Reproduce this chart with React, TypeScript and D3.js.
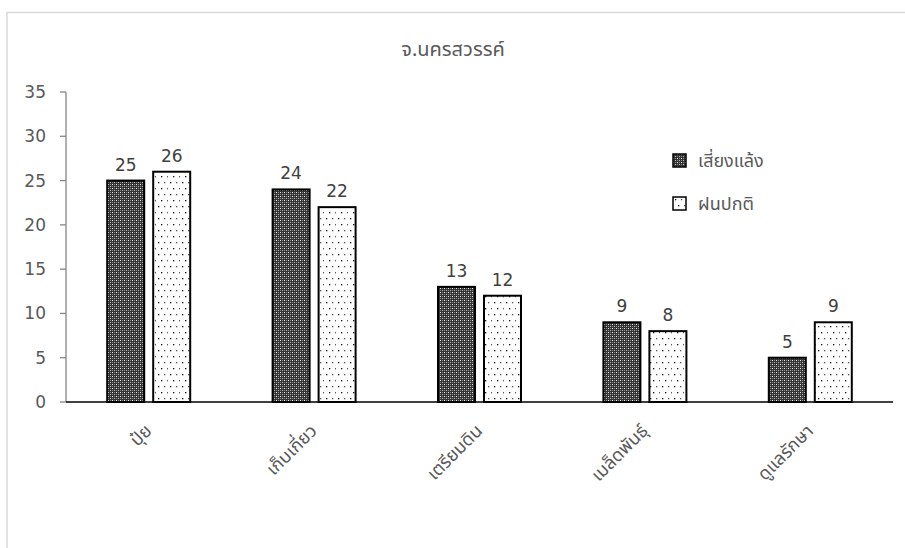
import React from "react";
import * as d3 from "d3";

const title = "จ.นครสวรรค์";
const categories = ["ปุ๋ย", "เก็บเกี่ยว", "เตรียมดิน", "เมล็ดพันธุ์", "ดูแลรักษา"];
const seriesNames = ["เสี่ยงแล้ง", "ฝนปกติ"];
const droughtValues = [25, 24, 13, 9, 5];
const normalValues = [26, 22, 12, 8, 9];
const yTicks = [0, 5, 10, 15, 20, 25, 30, 35];

const W = 905;
const H = 548;
const FONT = "'Noto Sans Thai', Tahoma, 'Leelawadee UI', 'Noto Sans', sans-serif";

export default function App() {
  const y = d3.scaleLinear().domain([0, 35]).range([402, 92]);
  const x = d3.scaleBand<string>().domain(categories).range([66, 893]).paddingInner(0).paddingOuter(0);
  const barW = 37;
  const gap = 9;
  const series = [droughtValues, normalValues];
  const fills = ["url(#patDark)", "url(#patDots)"];

  return (
    <svg width={W} height={H} style={{ position: "absolute", left: 0, top: 0, background: "#fff" }} fontFamily={FONT}>
      <defs>
        <pattern id="patDark" width="4" height="4" patternUnits="userSpaceOnUse">
          <rect width="4" height="4" fill="#333" />
          <rect x="0" y="0" width="1" height="1" fill="#eee" />
          <rect x="2" y="2" width="1" height="1" fill="#bbb" />
          <rect x="2" y="0" width="1" height="1" fill="#888" />
          <rect x="0" y="2" width="1" height="1" fill="#888" />
        </pattern>
        <pattern id="patDots" width="12" height="12" patternUnits="userSpaceOnUse">
          <rect width="12" height="12" fill="#fff" />
          <rect x="2" y="2" width="1.3" height="1.3" fill="#111" />
          <rect x="8" y="2" width="1.3" height="1.3" fill="#555" />
          <rect x="5" y="8" width="1.3" height="1.3" fill="#111" />
          <rect x="11" y="8" width="1.3" height="1.3" fill="#555" />
        </pattern>
      </defs>
      <rect x={7} y={12.5} width={W} height={H} fill="#fff" stroke="#d9d9d9" strokeWidth={1.5} />
      <text x={453} y={56} textAnchor="middle" fontSize={20} fill="#595959">{title}</text>

      {/* y axis */}
      <line x1={66} x2={66} y1={y(35)} y2={y(0)} stroke="#868686" strokeWidth={1.3} />
      {yTicks.map((t) => (
        <g key={t}>
          <line x1={60} x2={66} y1={y(t)} y2={y(t)} stroke="#868686" strokeWidth={1.3} />
          <text x={46} y={y(t)} dy="0.35em" textAnchor="end" fontSize={17} fill="#595959" fontFamily="'DejaVu Sans', sans-serif">{t}</text>
        </g>
      ))}

      {/* bars */}
      {categories.map((c, i) => {
        const cx = (x(c) as number) + x.bandwidth() / 2;
        return (
          <g key={c}>
            {series.map((vals, s) => {
              const bx = s === 0 ? cx - gap / 2 - barW : cx + gap / 2;
              const v = vals[i];
              return (
                <g key={s}>
                  <rect x={bx} y={y(v)} width={barW} height={y(0) - y(v)} fill={fills[s]} stroke="#000" strokeWidth={2} />
                  <text x={bx + barW / 2} y={y(v) - 10} textAnchor="middle" fontSize={17} fill="#404040" fontFamily="'DejaVu Sans', sans-serif">{v}</text>
                </g>
              );
            })}
          </g>
        );
      })}

      {/* x axis */}
      <line x1={66} x2={893} y1={y(0)} y2={y(0)} stroke="#000" strokeWidth={1.3} />
      {categories.map((c) => {
        const cx = (x(c) as number) + x.bandwidth() / 2;
        return (
          <text key={c} transform={`translate(${cx + 4},${y(0) + 30}) rotate(-45)`} textAnchor="end" fontSize={18} fill="#595959">{c}</text>
        );
      })}

      {/* legend */}
      {seriesNames.map((n, i) => (
        <g key={n} transform={`translate(673,${154 + i * 43})`}>
          <rect x={0} y={0} width={13} height={13} fill={fills[i]} stroke="#000" strokeWidth={1.5} />
          <text x={25} y={6.5} dy="0.35em" fontSize={18} fill="#595959">{n}</text>
        </g>
      ))}
    </svg>
  );
}
